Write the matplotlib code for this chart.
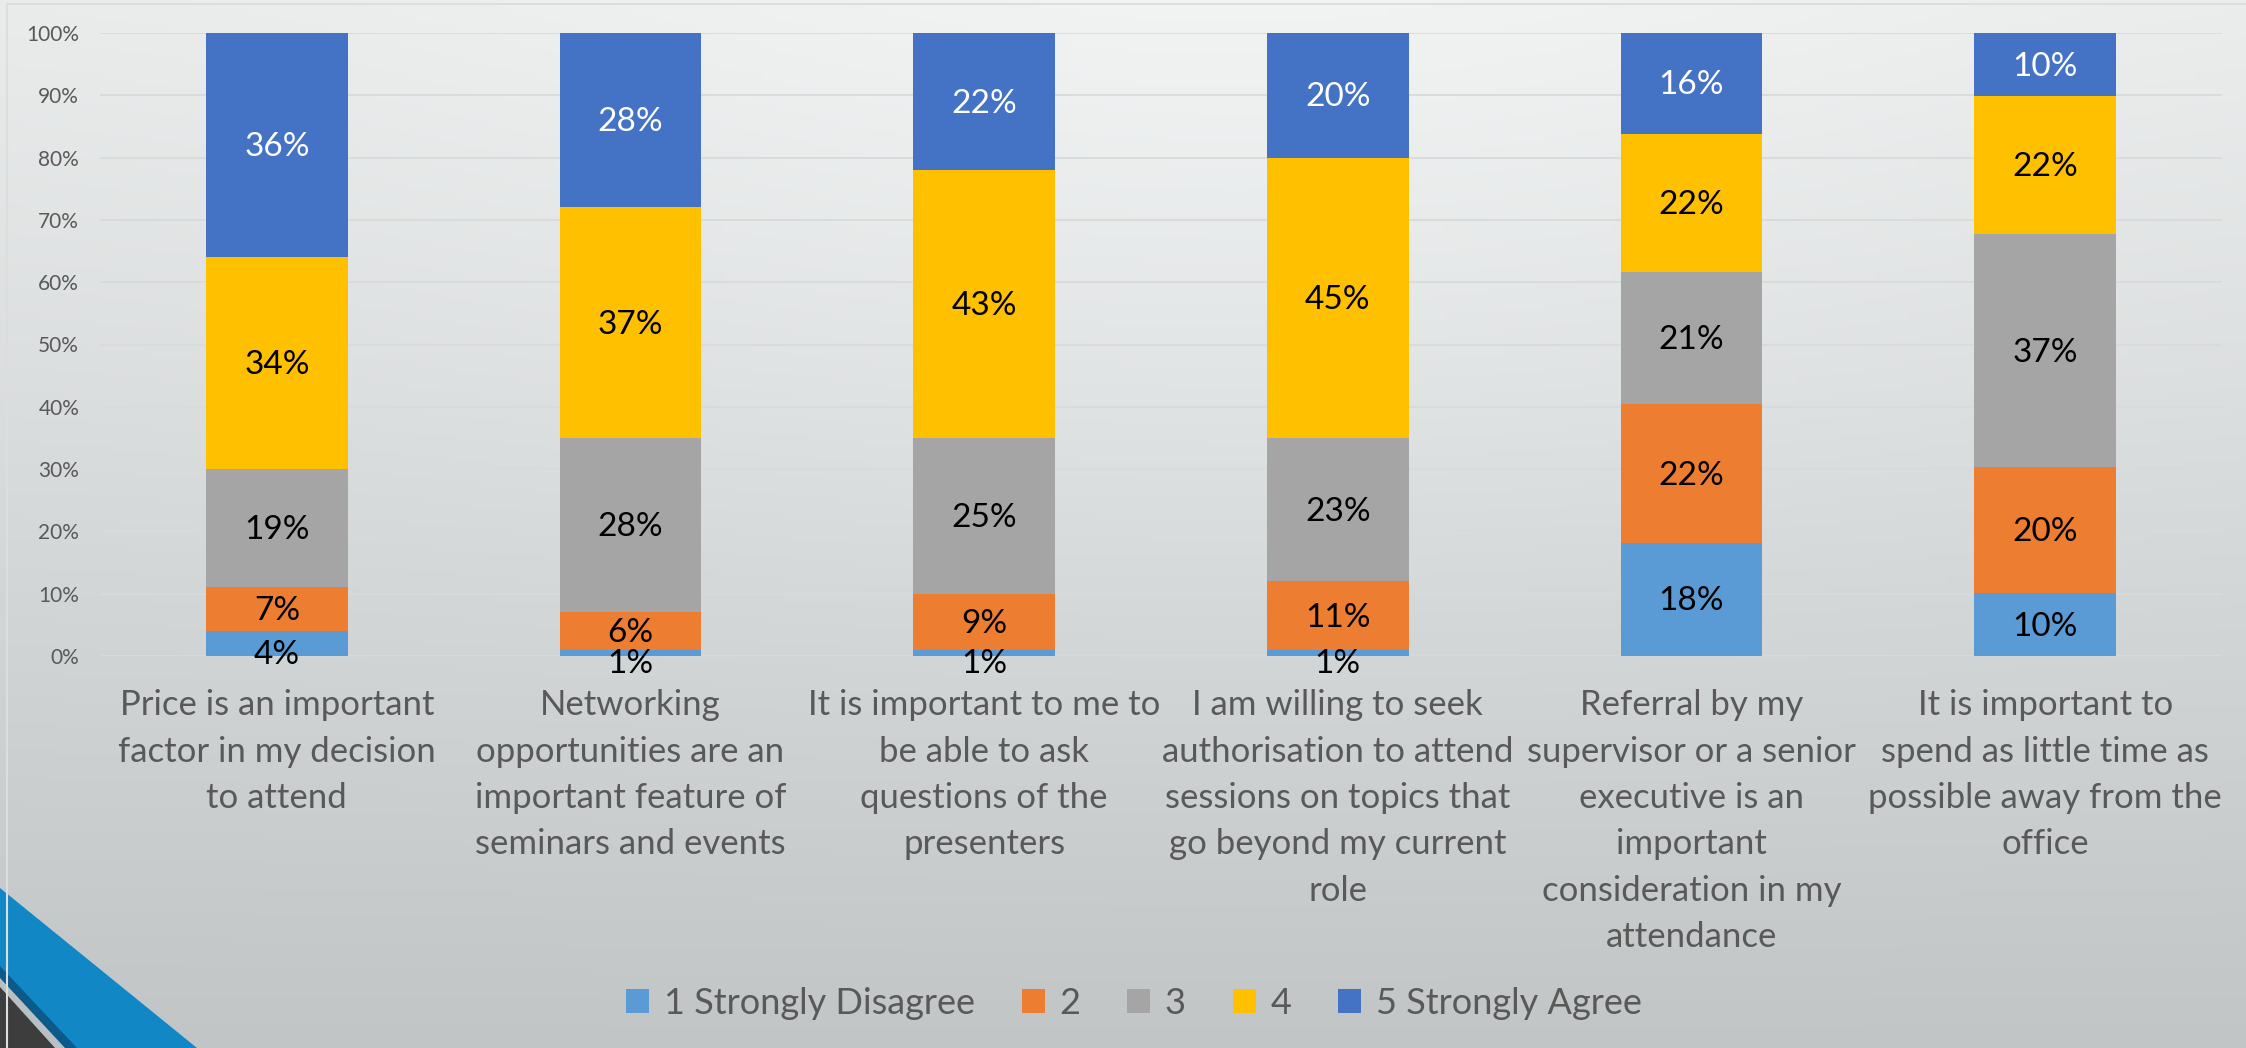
import numpy as np
import matplotlib
matplotlib.use('Agg')
import matplotlib.pyplot as plt
from matplotlib.patches import Polygon, Rectangle
from matplotlib.colors import to_rgb

plt.rcParams['font.family'] = ['Lato', 'DejaVu Sans']

categories = [
    'Price is an important\nfactor in my decision\nto attend',
    'Networking\nopportunities are an\nimportant feature of\nseminars and events',
    'It is important to me to\nbe able to ask\nquestions of the\npresenters',
    'I am willing to seek\nauthorisation to attend\nsessions on topics that\ngo beyond my current\nrole',
    'Referral by my\nsupervisor or a senior\nexecutive is an\nimportant\nconsideration in my\nattendance',
    'It is important to\nspend as little time as\npossible away from the\noffice',
]
series_names = ['1 Strongly Disagree', '2', '3', '4', '5 Strongly Agree']
strongly_disagree = [4, 1, 1, 1, 18, 10]
disagree = [7, 6, 9, 11, 22, 20]
neutral = [19, 28, 25, 23, 21, 37]
agree = [34, 37, 43, 45, 22, 22]
strongly_agree = [36, 28, 22, 20, 16, 10]
yticks = [0, 10, 20, 30, 40, 50, 60, 70, 80, 90, 100]

colors = ['#5B9BD5', '#ED7D31', '#A5A5A5', '#FFC000', '#4472C4']
text_gray = '#595959'

W, H = 2246, 1048
fig = plt.figure(figsize=(W / 100, H / 100), dpi=100)

# slide background gradient
bg = fig.add_axes([0, 0, 1, 1], zorder=-10)
yy, xx = np.mgrid[0:1:200j, 0:1:400j]
top = np.array(to_rgb('#e9ebeb'))
bot = np.array(to_rgb('#c1c5c6'))
t = yy[..., None]
img = top * (1 - t) + bot * t
glow = np.exp(-((xx - 0.55) ** 2 / 0.15 + (yy - 0.1) ** 2 / 0.25))[..., None]
img = img + glow * 0.035
bg.imshow(np.clip(img, 0, 1), aspect='auto', extent=[0, 1, 0, 1], origin='upper')
bg.set_axis_off()


def px(x, y):
    return (x / W, 1 - y / H)


# corner decoration
for pts, c in [
    ([(0, 888), (197, 1048), (0, 1048)], '#1287C6'),
    ([(0, 966), (77, 1048), (0, 1048)], '#0B5A8A'),
    ([(0, 978), (65, 1048), (0, 1048)], '#B9BFC2'),
    ([(0, 987), (55, 1048), (0, 1048)], '#3D3D3D'),
]:
    fig.patches.append(Polygon([px(*p) for p in pts], closed=True, facecolor=c,
                               edgecolor='none', transform=fig.transFigure, zorder=-5))

# chart area border
fig.patches.append(Rectangle(px(7, 1060), 1.1, (1060 - 4) / H, fill=False,
                             edgecolor='#dcdede', linewidth=1.5,
                             transform=fig.transFigure, zorder=-4))

ax = fig.add_axes([100 / W, 1 - 656 / H, (2222 - 100) / W, (656 - 33) / H])
ax.patch.set_alpha(0)

x = np.arange(len(categories))
data = np.array([strongly_disagree, disagree, neutral, agree, strongly_agree], dtype=float)
share = data / data.sum(axis=0) * 100  # 100% stacked
bottom = np.zeros(len(categories))
for i, name in enumerate(series_names):
    bars = ax.bar(x, share[i], 0.4, bottom=bottom, color=colors[i], label=name, zorder=3)
    anns = ax.bar_label(bars, labels=['{}%'.format(int(v)) for v in data[i]],
                        label_type='center', color='white' if i == 4 else 'black',
                        fontsize=24, zorder=4)
    # nudge labels down a little; tiny segments get pushed below like Excel does
    for a, v in zip(anns, data[i]):
        a.xyann = (0, -8 if v < 5 else -1.5)
    bottom += share[i]

ax.set_xlim(-0.5, len(categories) - 0.5)
ax.set_ylim(0, 100)
ax.set_yticks(yticks)
ax.set_yticklabels(['{}%'.format(v) for v in yticks], color=text_gray, fontsize=15)
ax.set_xticks(x)
ax.set_xticklabels(categories, color=text_gray, fontsize=25, linespacing=1.55)
ax.tick_params(axis='both', length=0)
ax.tick_params(axis='x', pad=24)
ax.tick_params(axis='y', pad=15)
ax.grid(axis='y', color='#d9dada', linewidth=1.3, zorder=0)
for s in ax.spines.values():
    s.set_visible(False)

fig.legend(loc='center', bbox_to_anchor=(1134 / W, 1 - 1003 / H), ncol=5,
           frameon=False, fontsize=26, labelcolor=text_gray,
           handlelength=0.64, handleheight=0.67, handletextpad=0.4,
           columnspacing=1.3)

fig.savefig('out.png', dpi=100)
